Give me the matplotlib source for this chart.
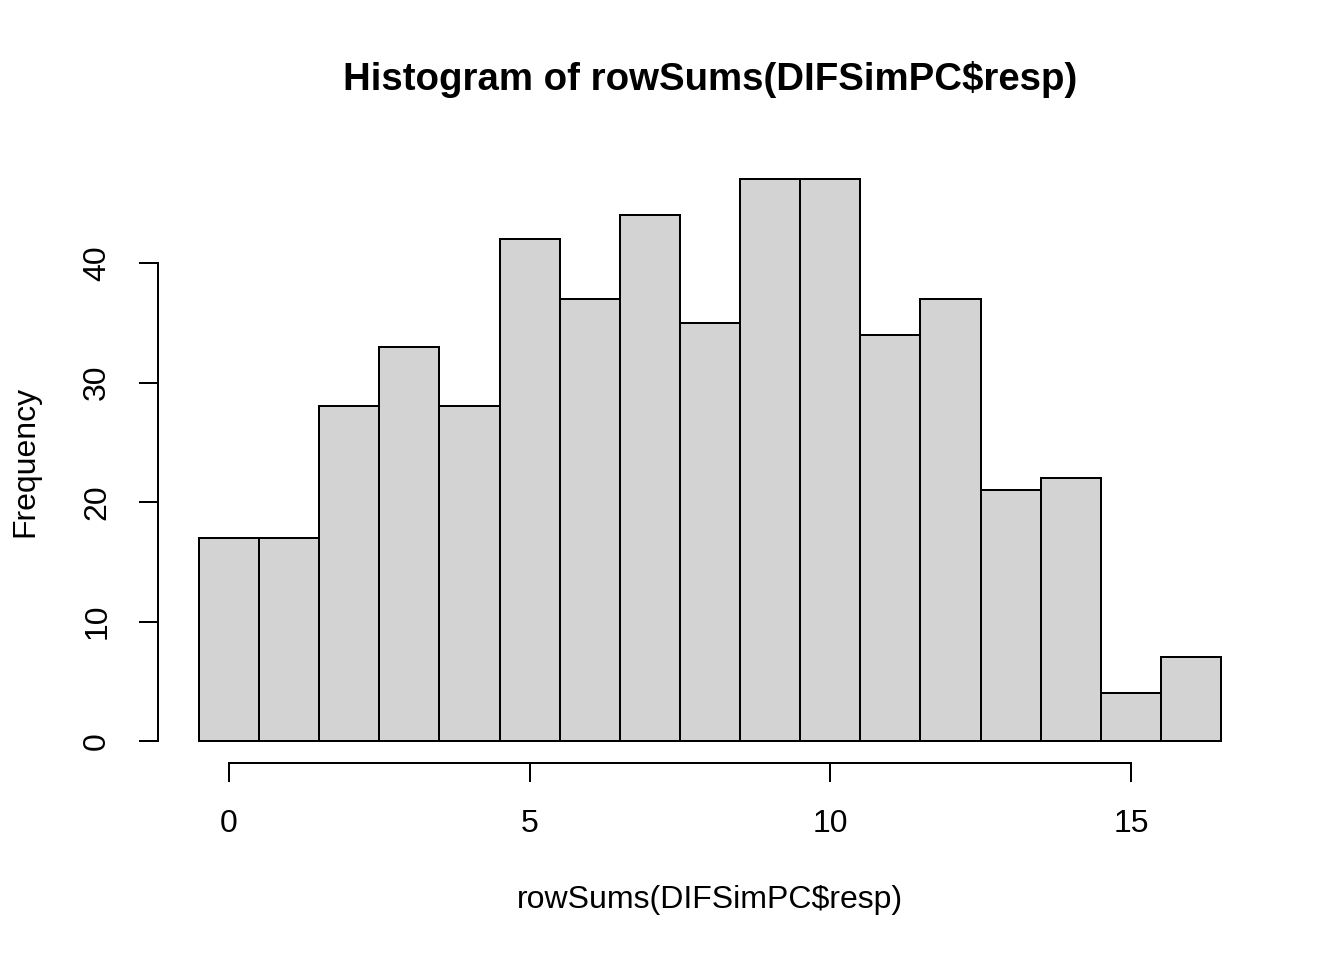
import matplotlib
matplotlib.use("Agg")
import matplotlib.pyplot as plt
import numpy as np

# === Data ===
bin_edges = np.arange(-0.5, 17.0, 1.0)
counts = [17, 17, 28, 33, 28, 42, 37, 44, 35, 47, 47, 34, 37, 21, 22, 4, 7]
x_ticks = [0, 5, 10, 15]
y_ticks = [0, 10, 20, 30, 40]

plt.rcParams["font.family"] = ["Liberation Sans", "DejaVu Sans"]
plt.rcParams["font.size"] = 12

fig = plt.figure(figsize=(7, 5), dpi=192)
ax = fig.add_axes([0.1176, 0.2047, 0.939 - 0.1176, 0.8365 - 0.2047])

widths = np.diff(bin_edges)
ax.bar(bin_edges[:-1], counts, width=widths, align="edge",
       color="#D3D3D3", edgecolor="black", linewidth=0.75)

# R-style 4% padding around the data range
span_x = bin_edges[-1] - bin_edges[0]
ax.set_xlim(bin_edges[0] - 0.04 * span_x, bin_edges[-1] + 0.04 * span_x)
ymax = max(counts)
ax.set_ylim(-0.04 * ymax, ymax + 0.04 * ymax)

for s in ["top", "right"]:
    ax.spines[s].set_visible(False)
ax.spines["left"].set_bounds(y_ticks[0], y_ticks[-1])
ax.spines["bottom"].set_bounds(x_ticks[0], x_ticks[-1])
ax.spines["left"].set_linewidth(0.75)
ax.spines["bottom"].set_linewidth(0.75)

ax.set_xticks(x_ticks)
ax.set_yticks(y_ticks)
ax.tick_params(direction="out", length=7.2, width=0.75, pad=10, labelsize=12)
for lbl in ax.get_yticklabels():
    lbl.set_rotation(90)
    lbl.set_va("center")

cx = (0.1176 + 0.939) / 2
fig.text(cx, 1 - 80 / 960, "Histogram of rowSums(DIFSimPC$resp)",
         ha="center", va="center", fontsize=14.4, fontweight="bold")
fig.text(cx, 1 - 900 / 960, "rowSums(DIFSimPC$resp)", ha="center", va="center")
fig.text(25 / 1344, 1 - 461 / 960, "Frequency", ha="center", va="center", rotation=90)

fig.savefig("out.png", dpi=192)
